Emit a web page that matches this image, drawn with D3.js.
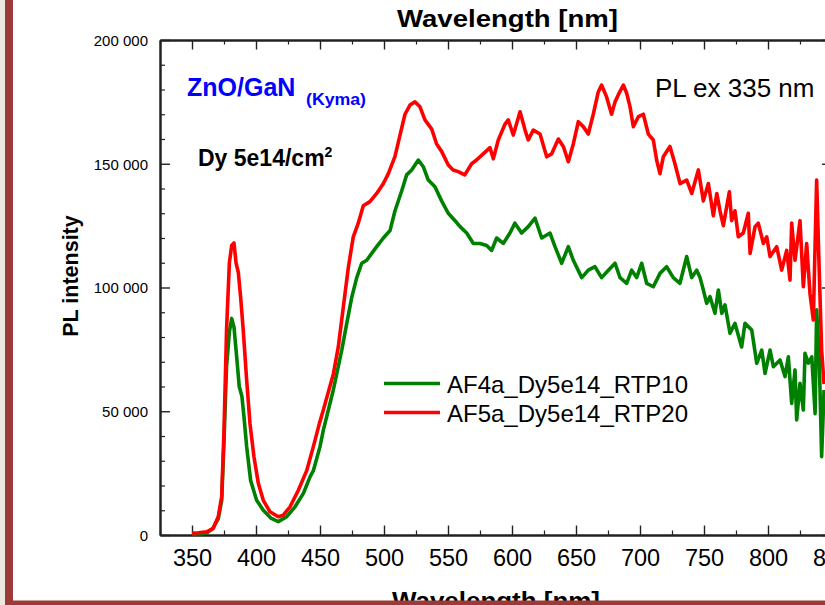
<!DOCTYPE html>
<html>
<head>
<meta charset="utf-8">
<script src="https://cdn.jsdelivr.net/npm/d3@7"></script>
<style>
	body { margin: 0; background: #fff; }
	text { font-family: "Liberation Sans", Arial, sans-serif; }
	.axis path, .axis line { stroke: #222; }
</style>
</head>
<body>
<div id="chart"></div>
<script>

// AF4a_Dy5e14_RTP10 (green) - wavelength [nm] / PL intensity
var af4aWavelength = [350, 358, 362, 366, 370.5, 373.2, 375, 377, 379.2, 381, 382.8, 384.9, 386.9, 389, 390.6, 392.7, 395.8, 400.5, 405.7, 412,
	417.4, 424, 430.5, 437, 442.2, 444.8, 450, 452.6, 460.4, 467, 470.9, 474.8, 478.7, 482.6, 486.5, 490.4, 494.3, 499.5, 504.7, 508.6,
	513.8, 517.7, 521.6, 526.8, 530.7, 534.6, 539.8, 545, 550.2, 555.5, 559.4, 564.6, 569.8, 575, 580.2, 584.1, 588, 593.2, 598.4, 602.3,
	607.5, 612.7, 618, 623.2, 629.7, 633.6, 638.8, 644, 647.9, 654.5, 659.6, 664.8, 670, 675.3, 680.5, 684.4, 689.6, 693.5, 697.4, 701.3,
	705.2, 710.4, 715.6, 720.8, 726, 731.2, 736.5, 740.4, 744.3, 746.9, 749.5, 752.1, 754.7, 758.6, 761.2, 763.9, 766.4, 770.3, 774.2, 779.4,
	782, 787.3, 791.2, 795.1, 797.7, 801.6, 804.2, 809.4, 813.3, 815.9, 818.5, 821.1, 822.4, 825, 827.6, 828.9, 831.5, 834.2, 836.8, 838,
	840, 841.9, 843.8];
var af4aIntensity = [300, 500, 1000, 2500, 6500, 14000, 38000, 68000, 82000, 87500, 84000, 72000, 60000, 56000, 47800, 35700, 22000, 14000, 10000, 6700,
	5400, 7400, 11400, 16800, 23500, 26000, 35700, 42400, 58600, 74700, 85500, 96000, 104000, 109800, 111000, 113800, 116500, 120000, 123000, 131000,
	139000, 145500, 147500, 151500, 148800, 143400, 140700, 135000, 130000, 127000, 124600, 122000, 117800, 117800, 117000, 115000, 120000, 117800, 122000, 126000,
	122000, 124600, 128000, 120000, 122000, 116500, 109800, 116500, 111000, 104000, 107000, 108400, 104000, 107000, 109800, 104000, 101700, 107000, 104000, 109800,
	101700, 100300, 105700, 108400, 104000, 101700, 112500, 104000, 107000, 104000, 99000, 93600, 96300, 89600, 99000, 89600, 93000, 81500, 85500, 76000,
	85500, 82800, 69400, 74700, 65300, 74700, 68000, 70700, 64000, 72000, 53200, 66700, 46500, 61300, 50500, 73400, 69400, 72000, 49000, 91000,
	72000, 31600, 58600];

// AF5a_Dy5e14_RTP20 (red)
var af5aWavelength = [350, 355, 361.5, 366.6, 370.5, 373.2, 375, 377, 379.2, 381, 382.8, 384.4, 386.2, 388, 390, 392.7, 395.3, 398.4, 401.8, 405.7,
	410.9, 417.4, 421.3, 426.6, 433, 439.6, 444.8, 449.5, 452.6, 460.4, 464.3, 468.2, 472.1, 476, 479.9, 483.8, 489, 494.3, 499.5, 503.4,
	508.6, 512.5, 516.4, 520.3, 524.2, 528.1, 532, 537.3, 541.1, 545, 550.2, 554, 558, 563.1, 568.5, 572.3, 577.5, 582.8, 585.4, 589.3,
	594.5, 597.1, 601, 606.3, 610.2, 612.7, 616.6, 621.9, 627.1, 631, 636.2, 640.1, 644, 647.9, 651.8, 655.7, 659.6, 663.5, 667.4, 670,
	673.9, 677.8, 680.5, 683, 687, 689.6, 692.2, 694.8, 698.7, 702.6, 706.5, 710.4, 713, 715.6, 718.2, 723.4, 727.3, 731.3, 736.5, 740.4,
	745.6, 749.5, 753.4, 757.3, 760, 762.5, 765.1, 769.8, 771.6, 774.2, 776.8, 780.7, 784.6, 786, 789.9, 792.4, 796.4, 799, 801.6, 806.8,
	810.7, 814.6, 817.2, 818.5, 821.1, 825, 827.6, 830.2, 832.8, 835.4, 838, 840, 841.9, 843.8];
var af5aIntensity = [800, 900, 1300, 2700, 7400, 15500, 42000, 83000, 110000, 117000, 118000, 110000, 106000, 96000, 83000, 62600, 45000, 31600, 20900, 14000,
	9400, 7400, 8000, 11400, 18000, 26000, 35700, 45000, 50500, 65000, 76000, 92000, 108000, 120500, 126000, 133000, 134700, 138000, 142000, 146000,
	153000, 161600, 170000, 173700, 175000, 173000, 167700, 164000, 158000, 155000, 149500, 147500, 146800, 145500, 150000, 151500, 154000, 156500, 152000, 159600,
	166000, 167700, 161600, 171000, 163600, 159600, 163600, 162000, 152800, 154000, 160000, 157000, 150800, 158000, 167000, 165000, 162000, 170000, 179000, 181800,
	177000, 170000, 175000, 177800, 181800, 178500, 173000, 165000, 169000, 170000, 162000, 159600, 151500, 146000, 152800, 157000, 150000, 142000, 143400, 138000,
	147500, 135000, 142000, 129000, 138000, 131000, 125000, 138700, 127000, 131000, 120500, 122000, 130000, 113800, 124600, 126000, 117800, 120500, 112500, 116500,
	107000, 115000, 103000, 126000, 111000, 127000, 100300, 117800, 97600, 86900, 143400, 107000, 74700, 61000];

var seriesNames = ["AF4a_Dy5e14_RTP10", "AF5a_Dy5e14_RTP20"];
var seriesColors = ["#008000", "#ff0000"];

// tick values
var xMajorTicks = [350, 400, 450, 500, 550, 600, 650, 700, 750, 800, 850];
var xMinorTicks = [325, 375, 425, 475, 525, 575, 625, 675, 725, 775, 825];
var yMajorTicks = [0, 50000, 100000, 150000, 200000];
var yMinorTicks = [10000, 20000, 30000, 40000, 60000, 70000, 80000, 90000, 110000, 120000, 130000, 140000, 160000, 170000, 180000, 190000];

var width = 825;
var height = 605;
var plot = {left: 160, right: 832, top: 40, bottom: 535};

var svg = d3.select("#chart").append("svg")
	.attr("width", width)
	.attr("height", height);

svg.append("rect")
	.attr("width", width)
	.attr("height", height)
	.attr("fill", "#fff");

var xScale = d3.scaleLinear()
	.domain([325, 850])
	.range([plot.left, plot.right]);

var yScale = d3.scaleLinear()
	.domain([0, 200000])
	.range([plot.bottom, plot.top]);

// "200 000" style numbers
var spaceFormat = d3.formatLocale({decimal: ".", thousands: " ", grouping: [3], currency: ["", ""]}).format(",d");

function styleAxis(g, width) {
	g.select(".domain").attr("stroke-width", 2);
	g.selectAll(".tick line").attr("stroke-width", width);
}

// bottom axis
var xAxisMinor = svg.append("g")
	.attr("class", "axis")
	.attr("transform", "translate(0," + plot.bottom + ")")
	.call(d3.axisBottom(xScale).tickValues(xMinorTicks).tickSize(-4.5).tickSizeOuter(0).tickFormat(""));
styleAxis(xAxisMinor, 1.2);

var xAxis = svg.append("g")
	.attr("class", "axis")
	.attr("transform", "translate(0," + plot.bottom + ")")
	.call(d3.axisBottom(xScale).tickValues(xMajorTicks).tickSize(-9.5).tickSizeOuter(0).tickFormat(d3.format("d")));
styleAxis(xAxis, 1.4);
xAxis.selectAll("text")
	.attr("y", 31)
	.attr("dy", null)
	.attr("fill", "#000")
	.style("font-size", "23.5px");

// top axis, ticks only
var topMinor = svg.append("g")
	.attr("class", "axis")
	.attr("transform", "translate(0," + plot.top + ")")
	.call(d3.axisTop(xScale).tickValues(xMinorTicks).tickSize(-4.5).tickSizeOuter(0).tickFormat(""));
styleAxis(topMinor, 1.2);
var topMajor = svg.append("g")
	.attr("class", "axis")
	.attr("transform", "translate(0," + plot.top + ")")
	.call(d3.axisTop(xScale).tickValues(xMajorTicks).tickSize(-9.5).tickSizeOuter(0).tickFormat(""));
styleAxis(topMajor, 1.4);

// left axis
var yMinor = svg.append("g")
	.attr("class", "axis")
	.attr("transform", "translate(" + plot.left + ",0)")
	.call(d3.axisLeft(yScale).tickValues(yMinorTicks).tickSize(-5).tickSizeOuter(0).tickFormat(""));
styleAxis(yMinor, 1.2);

var yAxis = svg.append("g")
	.attr("class", "axis")
	.attr("transform", "translate(" + plot.left + ",0)")
	.call(d3.axisLeft(yScale).tickValues(yMajorTicks).tickSize(-10).tickSizeOuter(0).tickFormat(spaceFormat));
styleAxis(yAxis, 1.4);
yAxis.selectAll("text")
	.attr("x", -12)
	.attr("dy", "0.35em")
	.attr("fill", "#000")
	.style("font-size", "15px");

// right axis (mostly off the page)
var rightAxis = svg.append("g")
	.attr("class", "axis")
	.attr("transform", "translate(" + plot.right + ",0)")
	.call(d3.axisRight(yScale).tickValues(yMajorTicks).tickSize(-10).tickSizeOuter(0).tickFormat(""));
styleAxis(rightAxis, 1.4);

// curves
var line = d3.line()
	.x(function(d) { return xScale(d[0]); })
	.y(function(d) { return yScale(d[1]); });

var seriesData = [
	d3.zip(af4aWavelength, af4aIntensity),
	d3.zip(af5aWavelength, af5aIntensity)
];

svg.selectAll(".curve")
	.data(seriesData)
	.enter()
	.append("path")
	.attr("class", "curve")
	.attr("d", line)
	.attr("fill", "none")
	.attr("stroke", function(d, i) { return seriesColors[i]; })
	.attr("stroke-width", 3.6)
	.attr("stroke-linejoin", "round");

// legend
var legend = svg.append("g").attr("class", "legend");
var legendY = [383.5, 412.5];

legend.selectAll("line")
	.data(seriesNames)
	.enter()
	.append("line")
	.attr("x1", 384)
	.attr("x2", 440)
	.attr("y1", function(d, i) { return legendY[i]; })
	.attr("y2", function(d, i) { return legendY[i]; })
	.attr("stroke", function(d, i) { return seriesColors[i]; })
	.attr("stroke-width", 3.5);

legend.selectAll("text")
	.data(seriesNames)
	.enter()
	.append("text")
	.attr("x", 447)
	.attr("y", function(d, i) { return legendY[i] + 9; })
	.style("font-size", "24px")
	.text(function(d) { return d; });

// annotations
svg.append("text")
	.attr("x", 187)
	.attr("y", 96)
	.attr("fill", "#0000ff")
	.style("font-size", "25px")
	.style("font-weight", "bold")
	.text("ZnO/GaN");

svg.append("text")
	.attr("x", 306)
	.attr("y", 105)
	.attr("fill", "#0000ff")
	.style("font-size", "16px")
	.style("font-weight", "bold")
	.attr("textLength", 60)
	.attr("lengthAdjust", "spacingAndGlyphs")
	.text("(Kyma)");

var dyText = svg.append("text")
	.attr("x", 198)
	.attr("y", 166)
	.style("font-size", "23px")
	.style("font-weight", "bold");
dyText.append("tspan").text("Dy 5e14/cm");
dyText.append("tspan")
	.attr("dy", -9)
	.style("font-size", "14px")
	.text("2");

svg.append("text")
	.attr("x", 655)
	.attr("y", 97)
	.style("font-size", "26px")
	.text("PL ex 335 nm");

// axis titles
svg.append("text")
	.attr("transform", "translate(78,276) rotate(-90)")
	.attr("text-anchor", "middle")
	.style("font-size", "21.5px")
	.style("font-weight", "bold")
	.text("PL intensity");

svg.append("text")
	.attr("x", 397)
	.attr("y", 27)
	.attr("textLength", 221)
	.attr("lengthAdjust", "spacingAndGlyphs")
	.style("font-size", "24px")
	.style("font-weight", "bold")
	.text("Wavelength [nm]");

svg.append("text")
	.attr("x", 392)
	.attr("y", 609)
	.attr("textLength", 208)
	.attr("lengthAdjust", "spacingAndGlyphs")
	.style("font-size", "24px")
	.style("font-weight", "bold")
	.text("Wavelength [nm]");

// slide frame on the left and bottom
svg.append("rect")
	.attr("x", 0).attr("y", 0)
	.attr("width", 13).attr("height", height)
	.attr("fill", "#9b3a36");
svg.append("rect")
	.attr("x", 0).attr("y", 600.5)
	.attr("width", width).attr("height", 5)
	.attr("fill", "#9b3a36");
svg.append("rect")
	.attr("x", 0).attr("y", 0)
	.attr("width", 5).attr("height", height)
	.attr("fill", "#ece9df");

</script>
</body>
</html>
